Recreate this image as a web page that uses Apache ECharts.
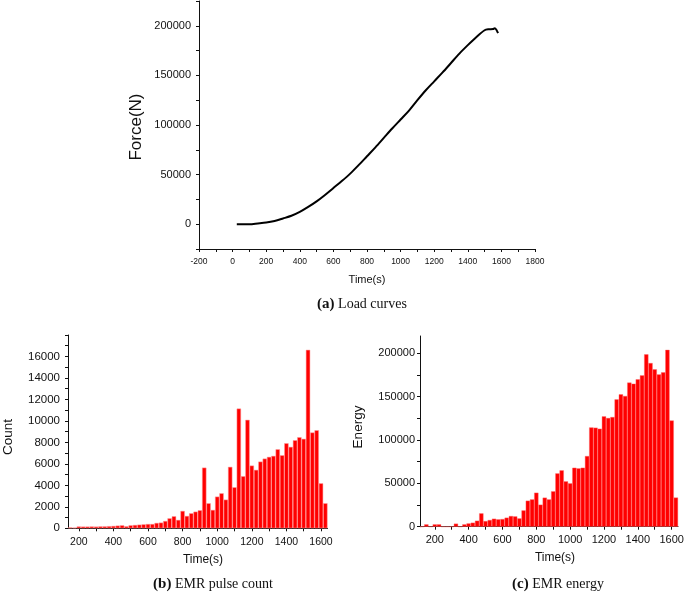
<!DOCTYPE html>
<html>
<head>
<meta charset="utf-8">
<script src="https://cdn.jsdelivr.net/npm/echarts@6/dist/echarts.min.js"></script>
<style>
  html, body { margin: 0; padding: 0; background: #fff; }
  #chart { width: 685px; height: 593px; }
</style>
</head>
<body>
<div id="chart"></div>
<script>
// ---------- (a) Load curve ----------
const loadTime  = [25, 50, 100, 150, 200, 250, 300, 350, 400, 450, 500, 550, 600, 650, 700, 750, 800, 850, 900, 950, 1000, 1050, 1100, 1150, 1200, 1250, 1300, 1350, 1400, 1450, 1500, 1525, 1550, 1560, 1570, 1580];
const loadForce = [0, 0, 0, 800, 1700, 3300, 5800, 8500, 12400, 17400, 23000, 29500, 36500, 43500, 51000, 59500, 68500, 77500, 87000, 96500, 105500, 114500, 125000, 135000, 144000, 153000, 162500, 172000, 180500, 188500, 195500, 196500, 196700, 197500, 196000, 192500];
const loadXTicks  = [-200, -100, 0, 100, 200, 300, 400, 500, 600, 700, 800, 900, 1000, 1100, 1200, 1300, 1400, 1500, 1600, 1700, 1800];
const loadXLabels = [-200, 0, 200, 400, 600, 800, 1000, 1200, 1400, 1600, 1800];
const loadYTicks  = [-25000, 0, 25000, 50000, 75000, 100000, 125000, 150000, 175000, 200000, 225000];
const loadYLabels = [0, 50000, 100000, 150000, 200000];

// ---------- (b) EMR pulse count ----------
const countBins = ['150','175','200','225','250','275','300','325','350','375','400','425','450','475','500','525','550','575','600','625','650','675','700','725','750','775','800','825','850','875','900','925','950','975','1000','1025','1050','1075','1100','1125','1150','1175','1200','1225','1250','1275','1300','1325','1350','1375','1400','1425','1450','1475','1500','1525','1550','1575','1600','1625'];
const countValues = [80, 60, 170, 160, 160, 170, 160, 180, 180, 200, 220, 250, 280, 190, 280, 310, 340, 370, 400, 400, 500, 530, 680, 930, 1120, 780, 1615, 1150, 1400, 1550, 1680, 5650, 2330, 1710, 2950, 3260, 2670, 5720, 3820, 11150, 4850, 10100, 5840, 5440, 6210, 6490, 6650, 6740, 7360, 6800, 7920, 7580, 8200, 8480, 8330, 16620, 8920, 9130, 4190, 2330];
const countYTicks  = [0, 1000, 2000, 3000, 4000, 5000, 6000, 7000, 8000, 9000, 10000, 11000, 12000, 13000, 14000, 15000, 16000, 17000, 18000];
const countYLabels = [0, 2000, 4000, 6000, 8000, 10000, 12000, 14000, 16000];

// ---------- (c) EMR energy ----------
const energyBins = ['125','150','175','200','225','250','275','300','325','350','375','400','425','450','475','500','525','550','575','600','625','650','675','700','725','750','775','800','825','850','875','900','925','950','975','1000','1025','1050','1075','1100','1125','1150','1175','1200','1225','1250','1275','1300','1325','1350','1375','1400','1425','1450','1475','1500','1525','1550','1575','1600','1625'];
const energyValues = [0, 2700, 0, 2700, 2700, 0, 0, 0, 3500, 0, 2700, 3800, 4600, 6900, 15400, 6500, 7700, 9200, 8500, 8800, 10400, 12300, 11900, 9600, 18800, 30000, 31500, 39200, 25400, 33500, 31500, 40800, 61500, 65000, 52300, 50000, 68000, 67300, 68000, 81500, 114500, 114200, 113000, 127300, 125400, 126500, 146900, 152700, 150800, 166200, 165000, 170000, 174600, 198800, 188800, 181500, 175700, 178000, 204000, 122500, 33600];
const energyYTicks  = [0, 25000, 50000, 75000, 100000, 125000, 150000, 175000, 200000];
const energyYLabels = [0, 50000, 100000, 150000, 200000];

const binTickEvery = 100;
const binLabelEvery = 200;

const SANS = '"Liberation Sans", Arial, sans-serif';
const SERIF = '"Liberation Serif", "Times New Roman", serif';
const INK = '#111';

function axisLineStyle() { return { show: true, onZero: false, lineStyle: { color: INK, width: 1 } }; }
const plain = v => String(v);

const chart = echarts.init(document.getElementById('chart'), null, { renderer: 'canvas' });

const option = {
  backgroundColor: '#ffffff',
  animation: false,
  grid: [
    { left: 199, top: 1, width: 336, height: 248, outerBoundsMode: 'none' },
    { left: 68, top: 335, width: 259.5, height: 193.3, outerBoundsMode: 'none' },
    { left: 420, top: 336, width: 258, height: 190.7, outerBoundsMode: 'none' }
  ],
  xAxis: [
    {
      gridIndex: 0, type: 'value', min: -200, max: 1800,
      axisLine: axisLineStyle(),
      axisTick: { show: true, length: 3, customValues: loadXTicks, lineStyle: { color: INK } },
      axisLabel: { customValues: loadXLabels, formatter: plain, fontFamily: SANS, fontSize: 8.5, color: INK, margin: 8 },
      splitLine: { show: false }
    },
    {
      gridIndex: 1, type: 'category', data: countBins, boundaryGap: true,
      axisLine: axisLineStyle(),
      axisTick: { show: true, length: 3, alignWithLabel: true, interval: (i, v) => (+v) % binTickEvery === 0, lineStyle: { color: INK } },
      axisLabel: { interval: (i, v) => (+v) % binLabelEvery === 0, fontFamily: SANS, fontSize: 10.5, color: INK, margin: 8 },
      splitLine: { show: false }
    },
    {
      gridIndex: 2, type: 'category', data: energyBins, boundaryGap: true,
      axisLine: axisLineStyle(),
      axisTick: { show: true, length: 3, alignWithLabel: true, interval: (i, v) => (+v) % binTickEvery === 0, lineStyle: { color: INK } },
      axisLabel: { interval: (i, v) => (+v) % binLabelEvery === 0, fontFamily: SANS, fontSize: 11, color: INK, margin: 7.5 },
      splitLine: { show: false }
    }
  ],
  yAxis: [
    {
      gridIndex: 0, type: 'value', min: -25000, max: 225000,
      axisLine: axisLineStyle(),
      axisTick: { show: true, length: 3, customValues: loadYTicks, lineStyle: { color: INK } },
      axisLabel: { customValues: loadYLabels, formatter: plain, fontFamily: SANS, fontSize: 11, color: INK, margin: 8 },
      splitLine: { show: false }
    },
    {
      gridIndex: 1, type: 'value', min: 0, max: 18000,
      axisLine: axisLineStyle(),
      axisTick: { show: true, length: 3, customValues: countYTicks, lineStyle: { color: INK } },
      axisLabel: { customValues: countYLabels, formatter: plain, fontFamily: SANS, fontSize: 11.5, color: INK, margin: 8 },
      splitLine: { show: false }
    },
    {
      gridIndex: 2, type: 'value', min: 0, max: 220000,
      axisLine: axisLineStyle(),
      axisTick: { show: true, length: 3, customValues: energyYTicks, lineStyle: { color: INK } },
      axisLabel: { customValues: energyYLabels, formatter: plain, fontFamily: SANS, fontSize: 11, color: INK, margin: 5 },
      splitLine: { show: false }
    }
  ],
  series: [
    {
      type: 'line', xAxisIndex: 0, yAxisIndex: 0,
      data: loadTime.map((t, i) => [t, loadForce[i]]),
      showSymbol: false, smooth: 0.3,
      lineStyle: { color: '#000', width: 2 }
    },
    {
      type: 'bar', xAxisIndex: 1, yAxisIndex: 1,
      data: countValues, barCategoryGap: '0%',
      itemStyle: { color: '#ff0000', borderColor: '#ff9a9a', borderWidth: 0.5 }
    },
    {
      type: 'bar', xAxisIndex: 2, yAxisIndex: 2,
      data: energyValues, barCategoryGap: '0%',
      itemStyle: { color: '#ff0000', borderColor: '#ff6a6a', borderWidth: 0.4 }
    }
  ],
  graphic: [
    { type: 'text', x: 136, y: 127, rotation: Math.PI / 2,
      style: { text: 'Force(N)', font: '17px ' + SANS, fill: INK, align: 'center', verticalAlign: 'middle' } },
    { type: 'text', x: 367, y: 280,
      style: { text: 'Time(s)', font: '11px ' + SANS, fill: INK, align: 'center', verticalAlign: 'middle' } },
    { type: 'text', x: 362, y: 304,
      style: { text: '{b|(a)} Load curves', font: '14px ' + SERIF, fill: INK, align: 'center', verticalAlign: 'middle',
        rich: { b: { fontWeight: 'bold', fontSize: 15, fontFamily: SERIF, fill: INK } } } },

    { type: 'text', x: 8, y: 437, rotation: Math.PI / 2,
      style: { text: 'Count', font: '13.5px ' + SANS, fill: INK, align: 'center', verticalAlign: 'middle' } },
    { type: 'text', x: 203, y: 560,
      style: { text: 'Time(s)', font: '12px ' + SANS, fill: INK, align: 'center', verticalAlign: 'middle' } },
    { type: 'text', x: 213, y: 584,
      style: { text: '{b|(b)} EMR pulse count', font: '14px ' + SERIF, fill: INK, align: 'center', verticalAlign: 'middle',
        rich: { b: { fontWeight: 'bold', fontSize: 15, fontFamily: SERIF, fill: INK } } } },

    { type: 'text', x: 358, y: 427, rotation: Math.PI / 2,
      style: { text: 'Energy', font: '13.5px ' + SANS, fill: INK, align: 'center', verticalAlign: 'middle' } },
    { type: 'text', x: 555, y: 558,
      style: { text: 'Time(s)', font: '12px ' + SANS, fill: INK, align: 'center', verticalAlign: 'middle' } },
    { type: 'text', x: 558, y: 584,
      style: { text: '{b|(c)} EMR energy', font: '14px ' + SERIF, fill: INK, align: 'center', verticalAlign: 'middle',
        rich: { b: { fontWeight: 'bold', fontSize: 15, fontFamily: SERIF, fill: INK } } } }
  ]
};

chart.setOption(option);
</script>
</body>
</html>
